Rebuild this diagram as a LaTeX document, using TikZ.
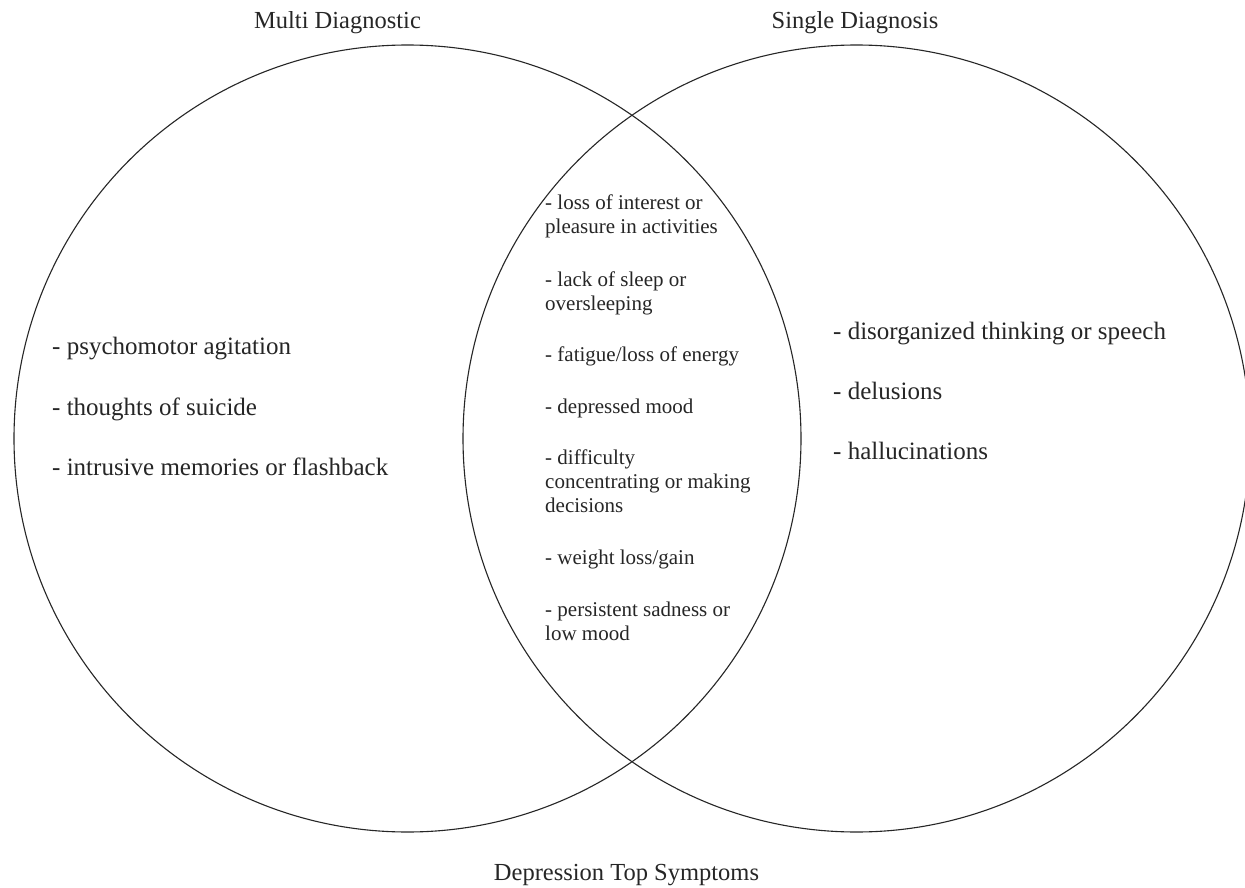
\documentclass[tikz,border=0pt]{standalone}
\usepackage{fontspec}
\setmainfont{Liberation Serif}
\newcommand{\midtext}[1]{\parbox[t]{230pt}{\raggedright\fontsize{21}{24}\selectfont #1}}
\begin{document}
\begin{tikzpicture}[x=1pt,y=-1pt,
  ring/.style={draw=black!85,line width=1.1pt},
  title/.style={anchor=base,inner sep=0pt,font=\fontsize{24.5}{28}\selectfont,text=black!85},
  side/.style={anchor=base west,inner sep=0pt,font=\fontsize{25}{29}\selectfont,text=black!85},
  mid/.style={anchor=base west,inner sep=0pt,text=black!85}]
\useasboundingbox (0,0) rectangle (1245,888);
\clip (0,0) rectangle (1245,888);
\fill[white] (0,0) rectangle (1245,888);
\draw[ring] (407.5,438.5) circle[radius=393.5];
\draw[ring] (856.5,438.5) circle[radius=393.5];
\node[title] (tl) at (337.5,29) {Multi Diagnostic};
\node[title] (tr) at (855,29) {Single Diagnosis};
\node[title] (tb) at (626.5,880) {Depression Top Symptoms};
\node[side] (l1) at (52,354) {- psychomotor agitation};
\node[side] (l2) at (52,415) {- thoughts of suicide};
\node[side] (l3) at (52,475) {- intrusive memories or flashback};
\node[side] (r1) at (833,339) {- disorganized thinking or speech};
\node[side] (r2) at (833,399) {- delusions};
\node[side] (r3) at (833,459) {- hallucinations};
\node[mid] (m1) at (545,209) {\midtext{- loss of interest or\\pleasure in activities}};
\node[mid] (m2) at (545,286) {\midtext{- lack of sleep or\\oversleeping}};
\node[mid] (m3) at (545,361) {\midtext{- fatigue/loss of energy}};
\node[mid] (m4) at (545,413) {\midtext{- depressed mood}};
\node[mid] (m5) at (545,464) {\midtext{- difficulty\\concentrating or making\\decisions}};
\node[mid] (m6) at (545,564) {\midtext{- weight loss/gain}};
\node[mid] (m7) at (545,616) {\midtext{- persistent sadness or\\low mood}};
\end{tikzpicture}
\end{document}
